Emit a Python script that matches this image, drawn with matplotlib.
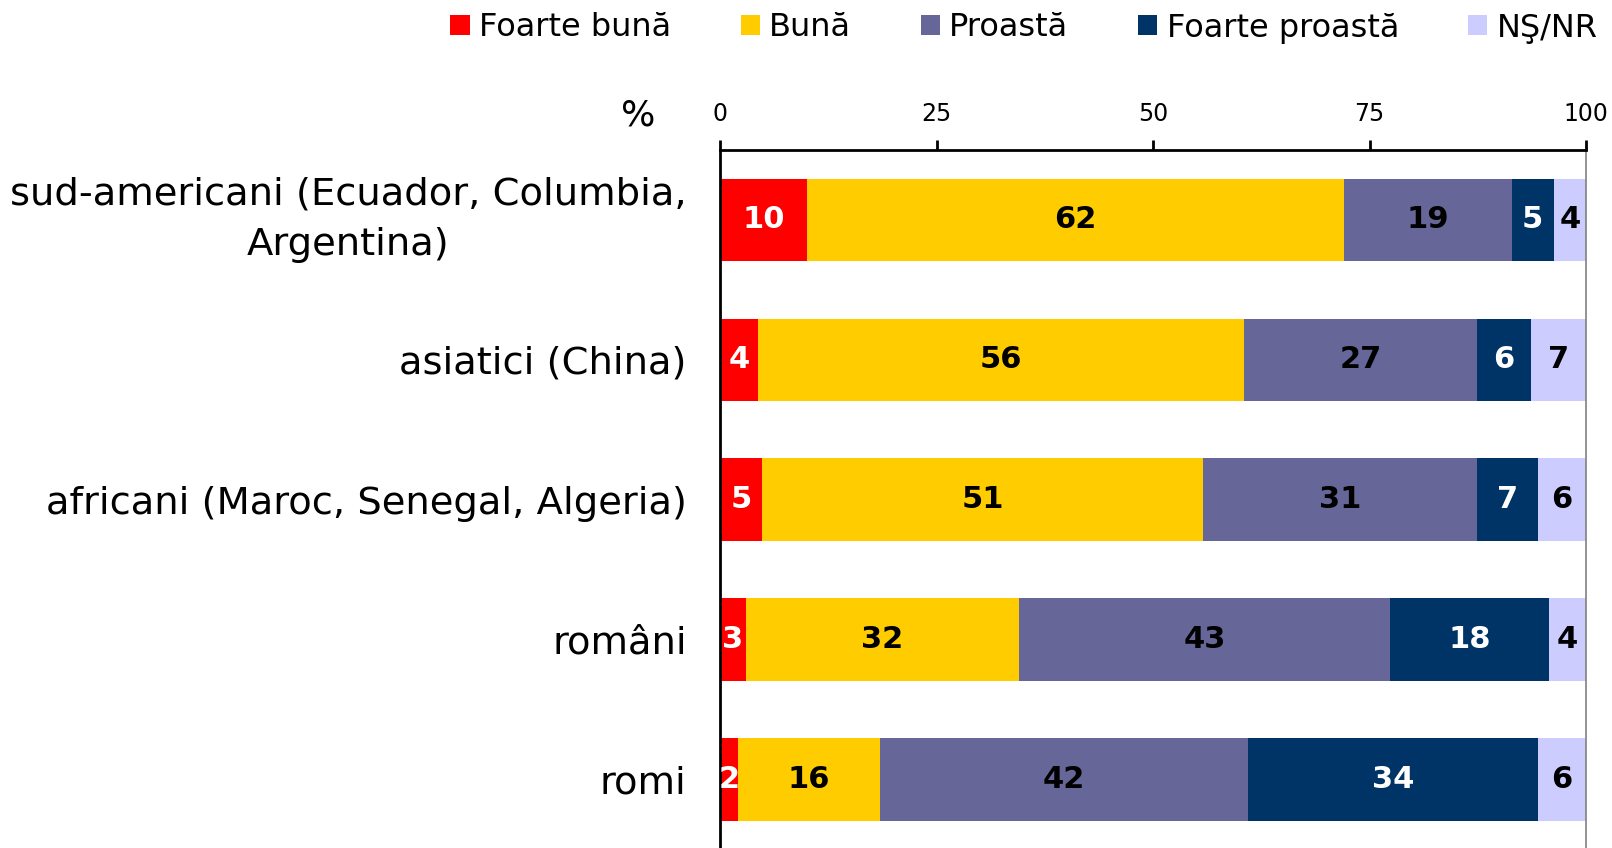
import matplotlib
matplotlib.use("Agg")
import matplotlib.pyplot as plt
from matplotlib.patches import Patch

plt.rcParams['font.family'] = ['DejaVu Sans']

categories = ['sud-americani (Ecuador, Columbia,\nArgentina)', 'asiatici (China)',
              'africani (Maroc, Senegal, Algeria)', 'români', 'romi']
series_names = ['Foarte bună', 'Bună', 'Proastă', 'Foarte proastă', 'NŞ/NR']
foarte_buna = [10.0, 4.4, 4.9, 3.0, 2.1]
buna = [62.0, 56.1, 50.9, 31.5, 16.4]
proasta = [19.4, 26.9, 31.6, 42.9, 42.5]
foarte_proasta = [4.9, 6.2, 7.1, 18.3, 33.5]
ns_nr = [3.7, 6.4, 5.5, 4.4, 5.6]
lbl_foarte_buna = [10, 4, 5, 3, 2]
lbl_buna = [62, 56, 51, 32, 16]
lbl_proasta = [19, 27, 31, 43, 42]
lbl_foarte_proasta = [5, 6, 7, 18, 34]
lbl_ns_nr = [4, 7, 6, 4, 6]
xticks = [0, 25, 50, 75, 100]

series = [foarte_buna, buna, proasta, foarte_proasta, ns_nr]
labels = [lbl_foarte_buna, lbl_buna, lbl_proasta, lbl_foarte_proasta, lbl_ns_nr]
colors = ['#FF0000', '#FFCC00', '#666699', '#003366', '#CCCCFF']
text_colors = ['white', 'black', 'black', 'white', 'black']

fig = plt.figure(figsize=(16.12, 8.48), dpi=100)
ax = fig.add_axes([720/1612, 0.0, (1586-720)/1612, (848-150)/848])

y = list(range(len(categories)))
left = [0.0]*len(categories)
for vals, lbls, c, tc, name in zip(series, labels, colors, text_colors, series_names):
    cont = ax.barh(y, vals, left=left, height=0.59, color=c, label=name)
    ax.bar_label(cont, labels=[str(v) for v in lbls], label_type='center',
                 color=tc, fontsize=22, fontweight='bold')
    left = [a + b for a, b in zip(left, vals)]

ax.set_xlim(0, 100)
ax.set_ylim(4.49, -0.5)
ax.xaxis.tick_top()
ax.set_xticks(xticks)
ax.set_xticklabels([str(t) for t in xticks], fontsize=17)
ax.tick_params(axis='x', direction='out', length=7, width=2, pad=10)
ax.set_yticks(y)
ax.set_yticklabels(categories, fontsize=27.7, linespacing=1.5)
for lbl in ax.get_yticklabels():
    lbl.set_multialignment('center')
    if '\n' in lbl.get_text():
        lbl.set_verticalalignment('center')
ax.tick_params(axis='y', length=0, pad=24)

ax.spines['bottom'].set_visible(False)
ax.spines['left'].set_linewidth(2)
ax.spines['top'].set_linewidth(2)
ax.spines['right'].set_color('#808080')
ax.spines['right'].set_linewidth(1.2)

fig.text(638/1612, 1 - 115/848, '%', fontsize=26, ha='center', va='center')

handles = [Patch(facecolor=c, edgecolor='none') for c in colors]
fig.legend(handles, series_names, loc='center right', bbox_to_anchor=(1598/1612, 1 - 28/848),
           ncol=5, frameon=False, fontsize=23, handlelength=0.6, handleheight=0.6,
           handletextpad=0.3, columnspacing=2.17, borderaxespad=0, borderpad=0)

fig.savefig('out.png', dpi=100)
